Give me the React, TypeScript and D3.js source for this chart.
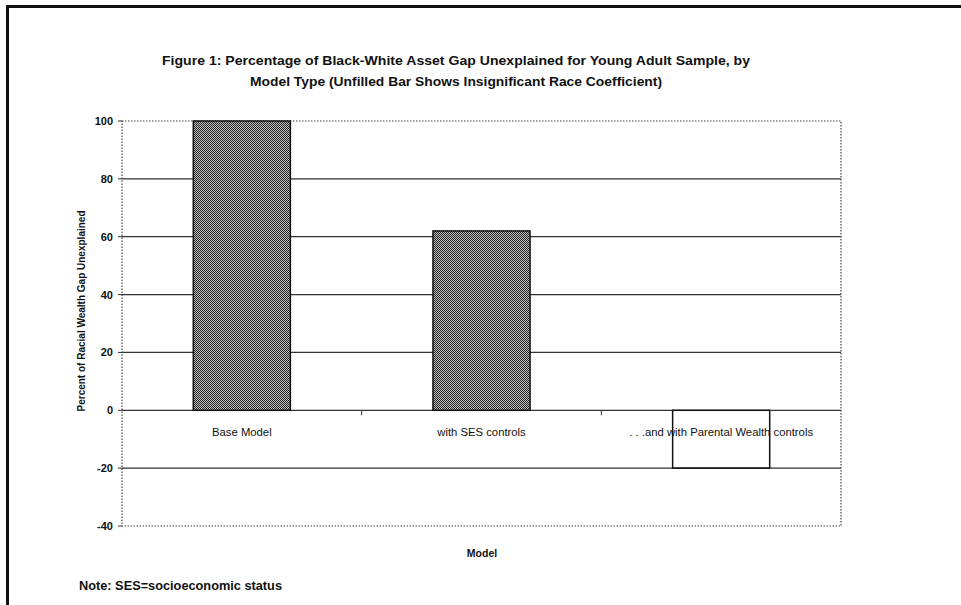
import React from "react";
import * as d3 from "d3";

const categories = ["Base Model", "with SES controls", ". . .and with Parental Wealth controls"];
const values = [100, 62, -20];
const filled = [true, true, false];
const yTicks = [100, 80, 60, 40, 20, 0, -20, -40];
const titleLines = [
  "Figure 1: Percentage of Black-White Asset Gap Unexplained for Young Adult Sample, by",
  "Model Type (Unfilled Bar Shows Insignificant Race Coefficient)",
];

const W = 961, H = 605;
const M = { left: 122, right: 841, top: 121, bottom: 526 };

export default function App() {
  const x = d3.scaleBand<string>().domain(categories).range([M.left, M.right]).paddingInner(0.595).paddingOuter(0.2975);
  const xb = d3.scaleBand<string>().domain(categories).range([M.left, M.right]);
  const y = d3.scaleLinear().domain([-40, 100]).range([M.bottom, M.top]);
  const font = "'Liberation Sans', Arial, sans-serif";
  return (
    <svg width={W} height={H} style={{ position: "absolute", left: 0, top: 0, background: "#fff" }} fontFamily={font}>
      <defs>
        <pattern id="chk" width={2} height={2} patternUnits="userSpaceOnUse">
          <rect width={2} height={2} fill="#c4c4c4" />
          <rect width={1} height={1} fill="#222" />
          <rect x={1} y={1} width={1} height={1} fill="#222" />
        </pattern>
      </defs>
      {/* page border */}
      <path d={`M7.5,${H} L7.5,6.5 L${W},6.5`} fill="none" stroke="#111" strokeWidth={3} />
      {/* title */}
      {titleLines.map((t, i) => (
        <text key={i} x={456} y={65 + i * 21} textAnchor="middle" fontSize={13.5} fontWeight="bold" fill="#111"
          textLength={i === 0 ? 588 : 412} lengthAdjust="spacingAndGlyphs">{t}</text>
      ))}
      {/* gridlines */}
      {yTicks.filter(v => v > -40 && v < 100).map(v => (
        <line key={v} x1={M.left} x2={M.right} y1={y(v)} y2={y(v)} stroke="#333" strokeWidth={1.2} />
      ))}
      {/* plot border dotted */}
      <rect x={M.left} y={M.top} width={M.right - M.left} height={M.bottom - M.top} fill="none" stroke="#444" strokeWidth={1.2} strokeDasharray="1.5,1.5" />
      {/* y ticks and labels */}
      {yTicks.map(v => (
        <g key={v}>
          <line x1={M.left - 4} x2={M.left} y1={y(v)} y2={y(v)} stroke="#333" strokeWidth={1} />
          <text x={113} y={y(v) + 4} textAnchor="end" fontSize={11} fontWeight="bold" fill="#111">{v}</text>
        </g>
      ))}
      {/* x category ticks */}
      {categories.slice(1).map(c => (
        <line key={c} x1={xb(c)!} x2={xb(c)!} y1={y(0)} y2={y(0) + 5} stroke="#333" strokeWidth={1} />
      ))}
      {/* bars */}
      {categories.map((c, i) => (
        <rect key={c} x={x(c)!} width={x.bandwidth()} y={y(Math.max(0, values[i]))} height={Math.abs(y(values[i]) - y(0))}
          fill={filled[i] ? "url(#chk)" : "none"} stroke="#111" strokeWidth={1.5} />
      ))}
      {/* category labels */}
      {categories.map(c => (
        <text key={c} x={xb(c)! + xb.bandwidth() / 2} y={y(0) + 26} textAnchor="middle" fontSize={11.3} fill="#111">{c}</text>
      ))}
      {/* axis titles */}
      <text x={482} y={557} textAnchor="middle" fontSize={10.5} fontWeight="bold" fill="#111">Model</text>
      <text transform={`translate(85,311) rotate(-90)`} textAnchor="middle" fontSize={10} fontWeight="bold" fill="#111">Percent of Racial Wealth Gap Unexplained</text>
      <text x={79} y={590} fontSize={12.5} fontWeight="bold" fill="#111" textLength={203} lengthAdjust="spacingAndGlyphs">Note: SES=socioeconomic status</text>
    </svg>
  );
}
